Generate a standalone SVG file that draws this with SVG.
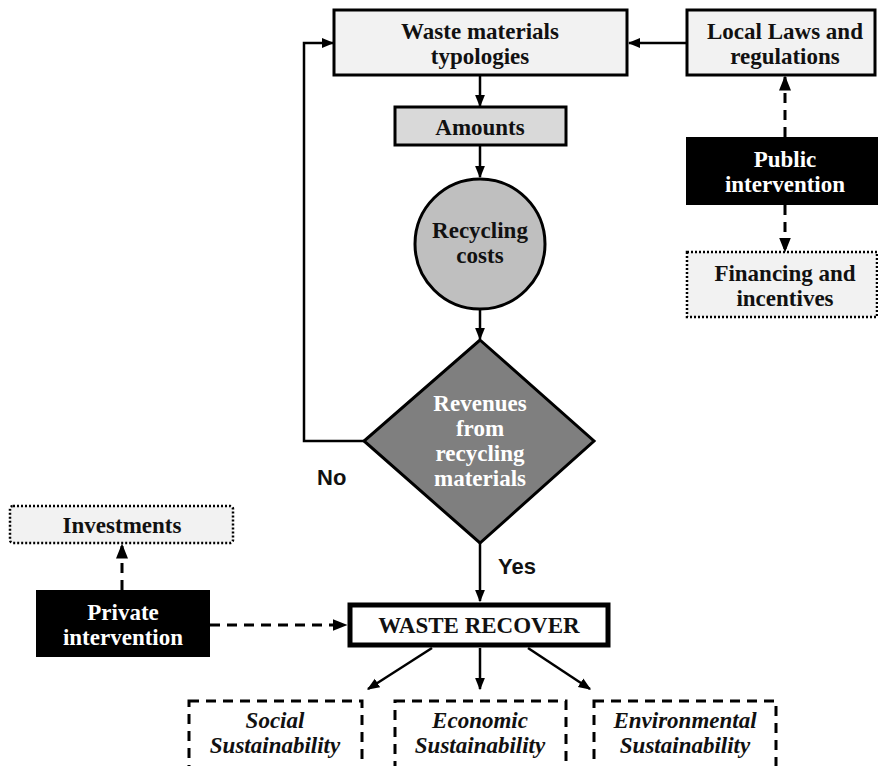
<svg xmlns="http://www.w3.org/2000/svg" width="878" height="766" viewBox="0 0 878 766">
<defs>
<marker id="ah" viewBox="0 0 10 10" refX="9" refY="5" markerWidth="5" markerHeight="5" orient="auto-start-reverse" markerUnits="strokeWidth">
<path d="M0,1 L10,5 L0,9 z" fill="#000"/>
</marker>
<style>
.t{font-family:"Liberation Serif","Times New Roman",serif;font-weight:bold;font-size:23px;text-anchor:middle;fill:#111}
.ti{font-style:italic}
.w{fill:#fff}
.s{font-family:"Liberation Sans",Arial,sans-serif;font-weight:bold;font-size:22px;fill:#111}
.box{stroke:#000;stroke-width:3}
.c{fill:none;stroke:#000;stroke-width:2.5}
.d{fill:none;stroke:#000;stroke-width:3;stroke-dasharray:10,7}
</style>
</defs>
<rect width="878" height="766" fill="#fff"/>
<g id="connectors">
<line class="c" x1="480" y1="75" x2="480" y2="106" marker-end="url(#ah)"/>
<line class="c" x1="480" y1="145" x2="480" y2="177" marker-end="url(#ah)"/>
<line class="c" x1="480" y1="309" x2="480" y2="339" marker-end="url(#ah)"/>
<line class="c" x1="687" y1="43" x2="629" y2="43" marker-end="url(#ah)"/>
<polyline class="c" points="364,441 304,441 304,43 333,43" marker-end="url(#ah)"/>
<line class="c" x1="480" y1="543" x2="480" y2="601" marker-end="url(#ah)"/>
<line class="c" x1="432" y1="648" x2="368" y2="689" marker-end="url(#ah)"/>
<line class="c" x1="480" y1="648" x2="480" y2="689" marker-end="url(#ah)"/>
<line class="c" x1="528" y1="648" x2="590" y2="689" marker-end="url(#ah)"/>
<line class="d" x1="785" y1="137" x2="785" y2="77" marker-end="url(#ah)"/>
<line class="d" x1="785" y1="205" x2="785" y2="251" marker-end="url(#ah)"/>
<line class="d" x1="122" y1="590" x2="122" y2="545" marker-end="url(#ah)"/>
<line class="d" x1="210" y1="625" x2="346" y2="625" marker-end="url(#ah)"/>
<text class="s" x="317" y="485">No</text>
<text class="s" x="498" y="574">Yes</text>
</g>
<g id="waste-types">
<rect class="box" x="334" y="10" width="293" height="65" fill="#f2f2f2"/>
<text class="t" x="480" y="39">Waste materials</text>
<text class="t" x="480" y="64">typologies</text>
</g>
<g id="laws">
<rect class="box" x="687" y="10" width="188" height="65" fill="#f2f2f2"/>
<text class="t" x="785" y="39">Local Laws and</text>
<text class="t" x="785" y="64">regulations</text>
</g>
<g id="amounts">
<rect class="box" x="395" y="107" width="171" height="38" fill="#d9d9d9"/>
<text class="t" x="480" y="135">Amounts</text>
</g>
<g id="recycling-costs">
<circle cx="480" cy="244" r="65" fill="#bfbfbf" stroke="#000" stroke-width="3"/>
<text class="t" x="480" y="238">Recycling</text>
<text class="t" x="480" y="263">costs</text>
</g>
<g id="revenues">
<polygon points="480,340 594,441 480,543 364,441" fill="#7f7f7f" stroke="#000" stroke-width="3"/>
<text class="t w" x="480" y="411">Revenues</text>
<text class="t w" x="480" y="436">from</text>
<text class="t w" x="480" y="461">recycling</text>
<text class="t w" x="480" y="486">materials</text>
</g>
<g id="public">
<rect x="686" y="137" width="192" height="68" fill="#000"/>
<text class="t w" x="785" y="167">Public</text>
<text class="t w" x="785" y="192">intervention</text>
</g>
<g id="financing">
<rect x="687" y="252" width="190" height="65" fill="#f2f2f2" stroke="#000" stroke-width="2.5" stroke-dasharray="2,2"/>
<text class="t" x="785" y="281">Financing and</text>
<text class="t" x="785" y="306">incentives</text>
</g>
<g id="investments">
<rect x="10" y="506" width="223" height="37" rx="3" fill="#f2f2f2" stroke="#000" stroke-width="2.5" stroke-dasharray="2,2"/>
<text class="t" x="122" y="533">Investments</text>
</g>
<g id="private">
<rect x="36" y="590" width="174" height="67" fill="#000"/>
<text class="t w" x="123" y="620">Private</text>
<text class="t w" x="123" y="645">intervention</text>
</g>
<g id="waste-recover">
<rect x="350" y="605" width="258" height="40" fill="#fff" stroke="#000" stroke-width="5"/>
<text class="t" x="479" y="633">WASTE  RECOVER</text>
</g>
<g id="social">
<rect class="d" x="189" y="701" width="173" height="68" fill="#fff"/>
<text class="t ti" x="275" y="728">Social</text>
<text class="t ti" x="275" y="753">Sustainability</text>
</g>
<g id="economic">
<rect class="d" x="395" y="701" width="171" height="68" fill="#fff"/>
<text class="t ti" x="480" y="728">Economic</text>
<text class="t ti" x="480" y="753">Sustainability</text>
</g>
<g id="environmental">
<rect class="d" x="594" y="701" width="182" height="68" fill="#fff"/>
<text class="t ti" x="685" y="728">Environmental</text>
<text class="t ti" x="685" y="753">Sustainability</text>
</g>
</svg>
